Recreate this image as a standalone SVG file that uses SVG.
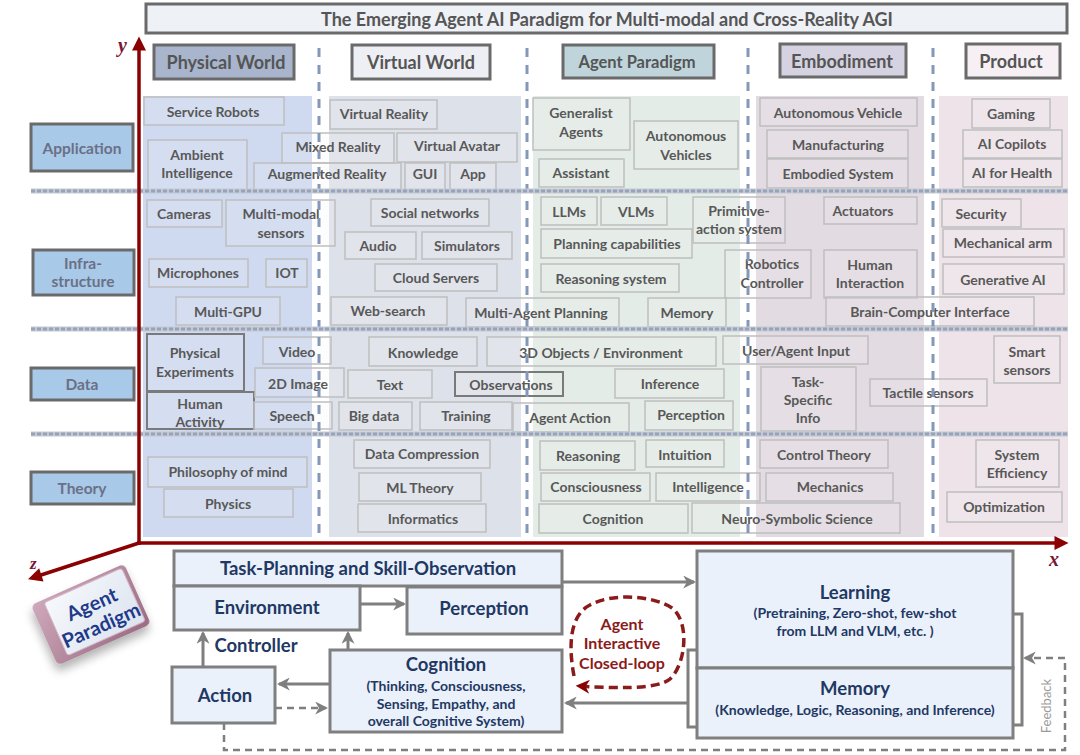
<svg xmlns="http://www.w3.org/2000/svg" width="1080" height="755" viewBox="0 0 1080 755">
<defs>
<style>
.it rect{fill:rgba(245,245,245,0.18);stroke:#BEBEBE;stroke-width:1.5}
.it.dk rect{stroke:#7A7A7A;stroke-width:2}
.it text{font-family:Lato,"Open Sans","Liberation Sans",sans-serif;font-weight:700;font-size:14px;fill:#585858;text-anchor:middle;dominant-baseline:central}
.hd rect{stroke:#6A6A6A;stroke-width:3}
.hd text{font-family:Lato,"Open Sans","Liberation Sans",sans-serif;font-weight:700;font-size:18px;fill:#555;text-anchor:middle;dominant-baseline:central}
.rl rect{fill:#A9C9E9;stroke:#6A6A6A;stroke-width:3}
.rl text{font-family:Lato,"Open Sans","Liberation Sans",sans-serif;font-weight:700;font-size:15.5px;fill:#6A7086;text-anchor:middle;dominant-baseline:central}
.vd{stroke:#8498B8;stroke-width:3;stroke-dasharray:9 8}
.hb{stroke:#C3CAD6;stroke-width:5}
.hs{stroke:#98A3B7;stroke-width:3;stroke-dasharray:4 2}
.bx rect{fill:#EAF1FA;stroke:#7F7F7F;stroke-width:3}
.bx text{font-family:Lato,"Open Sans","Liberation Sans",sans-serif;font-weight:700;fill:#1F3864;text-anchor:middle;dominant-baseline:central}
.bt{font-size:18.5px}
.bs{font-size:14px}
.cl{font-family:Lato,"Open Sans","Liberation Sans",sans-serif;font-weight:700;font-size:16px;fill:#8B1A1A;text-anchor:middle;dominant-baseline:central}
.cn{fill:none;stroke:#7F7F7F;stroke-width:3}
.cd{fill:none;stroke:#7F7F7F;stroke-width:2.5;stroke-dasharray:7 5}
.ax{stroke:#8B0000;stroke-width:3.5;fill:none}
.axl{font-family:"Liberation Serif",serif;font-style:italic;font-weight:700;font-size:20px;fill:#7A1535}
</style>
<marker id="ga" viewBox="0 0 12 12" markerWidth="13" markerHeight="13" refX="10" refY="6" orient="auto" markerUnits="userSpaceOnUse"><path d="M0,0 L12,6 L0,12 L3.5,6 z" fill="#7F7F7F"/></marker>
<marker id="ra" viewBox="0 0 12 12" markerWidth="14" markerHeight="14" refX="10" refY="6" orient="auto" markerUnits="userSpaceOnUse"><path d="M0,0 L12,6 L0,12 L3.5,6 z" fill="#8B0000"/></marker>
<marker id="xa" viewBox="0 0 12 12" markerWidth="16" markerHeight="14" refX="3" refY="6" orient="auto" markerUnits="userSpaceOnUse"><path d="M0,0 L12,6 L0,12 z" fill="#8B0000"/></marker>
<linearGradient id="mauve" x1="0" y1="0" x2="1" y2="1"><stop offset="0" stop-color="#CFA9BB"/><stop offset="1" stop-color="#9A6B83"/></linearGradient>
<linearGradient id="face" x1="0" y1="0" x2="1" y2="1"><stop offset="0" stop-color="#F6F8FC"/><stop offset="1" stop-color="#DCE4EF"/></linearGradient>
<filter id="sh" x="-40%" y="-40%" width="180%" height="180%"><feDropShadow dx="-3" dy="6" stdDeviation="5" flood-color="#000" flood-opacity="0.3"/></filter>
</defs>
<rect width="1080" height="755" fill="#FFFFFF"/>

<g id="title"><rect x="146" y="4" width="921" height="29" fill="#EEF1F6" stroke="#6A6A6A" stroke-width="3"/><text x="607" y="19" font-family="Lato,'Open Sans','Liberation Sans',sans-serif" font-weight="700" font-size="18" fill="#555" text-anchor="middle" dominant-baseline="central">The Emerging Agent AI Paradigm for Multi-modal and Cross-Reality AGI</text></g>

<g id="backgrounds">
<rect x="143" y="96" width="169" height="441" fill="#CFDAF0"/>
<rect x="329" y="96" width="192" height="441" fill="#DDE1EA"/>
<rect x="533" y="96" width="207" height="441" fill="#E3ECE7"/>
<rect x="756" y="96" width="168" height="441" fill="#E2DBE2"/>
<rect x="939" y="96" width="129" height="441" fill="#EEE3E9"/>
</g>

<g id="headers">
<g id="h-physical" class="hd"><rect x="154" y="45" width="140" height="34" fill="#A8B5CC"/><text x="226" y="62">Physical World</text></g>
<g id="h-virtual" class="hd"><rect x="352" y="45" width="138" height="34" fill="#EDEFF4"/><text x="421" y="62">Virtual World</text></g>
<g id="h-agent" class="hd"><rect x="563" y="45" width="151" height="33" fill="#BFD4DB"/><text x="637" y="62" style="font-size:16.5px">Agent Paradigm</text></g>
<g id="h-embodiment" class="hd"><rect x="780" y="44" width="126" height="33" fill="#D5D2E1" stroke="#6A5E6C"/><text x="842" y="61">Embodiment</text></g>
<g id="h-product" class="hd"><rect x="966" y="44" width="94" height="34" fill="#F6F0F5" stroke="#6A5E6C"/><text x="1011" y="61">Product</text></g>
</g>

<g id="row-labels">
<g id="r-application" class="rl"><rect x="31" y="124" width="102" height="47"/><text x="82" y="148">Application</text></g>
<g id="r-infrastructure" class="rl"><rect x="33" y="250" width="101" height="45"/><text x="83" y="263">Infra-</text><text x="83" y="281">structure</text></g>
<g id="r-data" class="rl"><rect x="31" y="368" width="103" height="32"/><text x="82" y="384">Data</text></g>
<g id="r-theory" class="rl"><rect x="31" y="472" width="103" height="32"/><text x="82" y="488">Theory</text></g>
</g>

<g id="items-application">
<g id="service-robots" class="it"><rect x="144" y="97" width="140" height="28"/><text x="213" y="111">Service Robots</text></g>
<g id="ambient-intelligence" class="it"><rect x="148" y="140" width="99" height="50"/><text x="197" y="154">Ambient</text><text x="197" y="172">Intelligence</text></g>
<g id="mixed-reality" class="it"><rect x="282" y="133" width="112" height="30"/><text x="338" y="146">Mixed Reality</text></g>
<g id="virtual-reality" class="it"><rect x="330" y="100" width="107" height="29"/><text x="384" y="113">Virtual Reality</text></g>
<g id="virtual-avatar" class="it"><rect x="397" y="133" width="120" height="29"/><text x="457" y="145">Virtual Avatar</text></g>
<g id="augmented-reality" class="it"><rect x="254" y="163" width="147" height="27"/><text x="327" y="173">Augmented Reality</text></g>
<g id="gui" class="it"><rect x="405" y="163" width="40" height="27"/><text x="425" y="173">GUI</text></g>
<g id="app" class="it"><rect x="450" y="163" width="46" height="27"/><text x="473" y="173">App</text></g>
<g id="generalist-agents" class="it"><rect x="533" y="98" width="97" height="52"/><text x="581" y="112">Generalist</text><text x="581" y="131">Agents</text></g>
<g id="autonomous-vehicles" class="it"><rect x="634" y="121" width="104" height="48"/><text x="686" y="135">Autonomous</text><text x="686" y="154">Vehicles</text></g>
<g id="assistant" class="it"><rect x="539" y="159" width="85" height="28"/><text x="581" y="172">Assistant</text></g>
<g id="autonomous-vehicle" class="it"><rect x="760" y="98" width="157" height="28"/><text x="838" y="112">Autonomous Vehicle</text></g>
<g id="manufacturing" class="it"><rect x="767" y="130" width="141" height="28"/><text x="838" y="144">Manufacturing</text></g>
<g id="embodied-system" class="it"><rect x="767" y="159" width="141" height="29"/><text x="838" y="173">Embodied System</text></g>
<g id="gaming" class="it"><rect x="972" y="99" width="78" height="29"/><text x="1011" y="113">Gaming</text></g>
<g id="ai-copilots" class="it"><rect x="963" y="130" width="99" height="28"/><text x="1012" y="143">AI Copilots</text></g>
<g id="ai-for-health" class="it"><rect x="963" y="159" width="99" height="28"/><text x="1012" y="172">AI for Health</text></g>
</g>

<g id="items-infrastructure">
<g id="cameras" class="it"><rect x="147" y="200" width="75" height="27"/><text x="184" y="213">Cameras</text></g>
<g id="multimodal-sensors" class="it"><rect x="226" y="200" width="109" height="46"/><text x="281" y="213">Multi-modal</text><text x="281" y="232">sensors</text></g>
<g id="microphones" class="it"><rect x="149" y="259" width="99" height="28"/><text x="198" y="272">Microphones</text></g>
<g id="iot" class="it"><rect x="266" y="259" width="41" height="28"/><text x="287" y="272">IOT</text></g>
<g id="multi-gpu" class="it"><rect x="176" y="297" width="104" height="28"/><text x="228" y="311">Multi-GPU</text></g>
<g id="social-networks" class="it"><rect x="371" y="199" width="118" height="27"/><text x="430" y="212">Social networks</text></g>
<g id="audio" class="it"><rect x="345" y="232" width="71" height="27"/><text x="378" y="245">Audio</text></g>
<g id="simulators" class="it"><rect x="422" y="232" width="90" height="27"/><text x="467" y="245">Simulators</text></g>
<g id="cloud-servers" class="it"><rect x="375" y="264" width="122" height="27"/><text x="436" y="277">Cloud Servers</text></g>
<g id="web-search" class="it"><rect x="331" y="297" width="116" height="28"/><text x="388" y="310">Web-search</text></g>
<g id="multi-agent-planning" class="it"><rect x="466" y="298" width="153" height="29"/><text x="541" y="312">Multi-Agent Planning</text></g>
<g id="llms" class="it"><rect x="541" y="197" width="56" height="28"/><text x="569" y="211">LLMs</text></g>
<g id="vlms" class="it"><rect x="601" y="197" width="66" height="28"/><text x="636" y="211">VLMs</text></g>
<g id="primitive-action" class="it"><rect x="693" y="197" width="92" height="46"/><text x="739" y="210">Primitive-</text><text x="739" y="228">action system</text></g>
<g id="planning-capabilities" class="it"><rect x="541" y="229" width="151" height="29"/><text x="617" y="243">Planning capabilities</text></g>
<g id="reasoning-system" class="it"><rect x="541" y="264" width="138" height="28"/><text x="611" y="278">Reasoning system</text></g>
<g id="robotics-controller" class="it"><rect x="725" y="250" width="86" height="48"/><text x="772" y="263">Robotics</text><text x="772" y="282">Controller</text></g>
<g id="memory-item" class="it"><rect x="648" y="298" width="78" height="29"/><text x="687" y="312">Memory</text></g>
<g id="actuators" class="it"><rect x="824" y="197" width="93" height="27"/><text x="863" y="210">Actuators</text></g>
<g id="human-interaction" class="it"><rect x="824" y="250" width="93" height="48"/><text x="870" y="264">Human</text><text x="870" y="282">Interaction</text></g>
<g id="bci" class="it"><rect x="826" y="297" width="208" height="29"/><text x="930" y="311">Brain-Computer Interface</text></g>
<g id="security" class="it"><rect x="942" y="199" width="79" height="28"/><text x="981" y="213">Security</text></g>
<g id="mechanical-arm" class="it"><rect x="943" y="229" width="121" height="28"/><text x="1003" y="242">Mechanical arm</text></g>
<g id="generative-ai" class="it"><rect x="943" y="264" width="121" height="30"/><text x="1003" y="279">Generative AI</text></g>
</g>

<g id="items-data">
<g id="physical-experiments" class="it dk"><rect x="147" y="334" width="97" height="57"/><text x="195" y="352">Physical</text><text x="195" y="371">Experiments</text></g>
<g id="human-activity" class="it dk"><rect x="147" y="392" width="107" height="37"/><text x="200" y="403">Human</text><text x="200" y="421">Activity</text></g>
<g id="video" class="it"><rect x="263" y="337" width="68" height="27"/><text x="297" y="351">Video</text></g>
<g id="image-2d" class="it"><rect x="255" y="368" width="89" height="29"/><text x="298" y="383">2D Image</text></g>
<g id="speech" class="it"><rect x="254" y="402" width="78" height="27"/><text x="292" y="415">Speech</text></g>
<g id="knowledge" class="it"><rect x="369" y="337" width="108" height="29"/><text x="423" y="352">Knowledge</text></g>
<g id="text-item" class="it"><rect x="348" y="370" width="84" height="28"/><text x="390" y="384">Text</text></g>
<g id="big-data" class="it"><rect x="339" y="402" width="73" height="28"/><text x="374" y="415">Big data</text></g>
<g id="training" class="it"><rect x="420" y="402" width="92" height="28"/><text x="466" y="415">Training</text></g>
<g id="objects-3d" class="it"><rect x="487" y="337" width="229" height="29"/><text x="601" y="352">3D Objects / Environment</text></g>
<g id="inference" class="it"><rect x="615" y="369" width="109" height="29"/><text x="670" y="383">Inference</text></g>
<g id="agent-action" class="it"><rect x="513" y="403" width="116" height="29"/><text x="570" y="417">Agent Action</text></g>
<g id="perception-item" class="it"><rect x="645" y="401" width="88" height="29"/><text x="691" y="414">Perception</text></g>
<g id="observations" class="it dk"><rect x="455" y="372" width="108" height="24"/><text x="511" y="384">Observations</text></g>
<g id="user-agent-input" class="it"><rect x="723" y="336" width="145" height="28"/><text x="796" y="350">User/Agent  Input</text></g>
<g id="task-specific-info" class="it"><rect x="761" y="367" width="95" height="64"/><text x="808" y="381">Task-</text><text x="808" y="399">Specific</text><text x="808" y="417">Info</text></g>
<g id="tactile-sensors" class="it"><rect x="870" y="379" width="117" height="27"/><text x="928" y="392">Tactile sensors</text></g>
<g id="smart-sensors" class="it"><rect x="994" y="336" width="66" height="47"/><text x="1027" y="351">Smart</text><text x="1027" y="369">sensors</text></g>
</g>

<g id="items-theory">
<g id="philosophy-of-mind" class="it"><rect x="148" y="457" width="159" height="30"/><text x="228" y="471">Philosophy of mind</text></g>
<g id="physics" class="it"><rect x="164" y="489" width="129" height="28"/><text x="228" y="503">Physics</text></g>
<g id="data-compression" class="it"><rect x="354" y="440" width="136" height="28"/><text x="422" y="453">Data Compression</text></g>
<g id="ml-theory" class="it"><rect x="359" y="473" width="122" height="28"/><text x="420" y="487">ML Theory</text></g>
<g id="informatics" class="it"><rect x="358" y="504" width="128" height="28"/><text x="423" y="518">Informatics</text></g>
<g id="reasoning" class="it"><rect x="540" y="441" width="95" height="29"/><text x="588" y="455">Reasoning</text></g>
<g id="intuition" class="it"><rect x="646" y="440" width="78" height="27"/><text x="685" y="454">Intuition</text></g>
<g id="consciousness" class="it"><rect x="541" y="473" width="109" height="28"/><text x="596" y="486">Consciousness</text></g>
<g id="intelligence" class="it"><rect x="656" y="473" width="104" height="28"/><text x="708" y="486">Intelligence</text></g>
<g id="cognition-item" class="it"><rect x="539" y="504" width="149" height="29"/><text x="613" y="518">Cognition</text></g>
<g id="neuro-symbolic" class="it"><rect x="692" y="503" width="208" height="30"/><text x="797" y="518">Neuro-Symbolic Science</text></g>
<g id="control-theory" class="it"><rect x="760" y="440" width="128" height="28"/><text x="824" y="454">Control Theory</text></g>
<g id="mechanics" class="it"><rect x="766" y="473" width="127" height="28"/><text x="830" y="486">Mechanics</text></g>
<g id="system-efficiency" class="it"><rect x="976" y="440" width="83" height="47"/><text x="1017" y="454">System</text><text x="1017" y="472">Efficiency</text></g>
<g id="optimization" class="it"><rect x="947" y="492" width="115" height="30"/><text x="1004" y="506">Optimization</text></g>
</g>

<g id="dividers">
<line class="vd" x1="319" y1="48" x2="319" y2="540"/>
<line class="vd" x1="527" y1="48" x2="527" y2="540"/>
<line class="vd" x1="748" y1="48" x2="748" y2="540"/>
<line class="vd" x1="933" y1="48" x2="933" y2="540"/>
<line class="hb" x1="31" y1="191" x2="1068" y2="191"/>
<line class="hs" x1="31" y1="191" x2="1068" y2="191"/>
<line class="hb" x1="31" y1="329" x2="1068" y2="329"/>
<line class="hs" x1="31" y1="329" x2="1068" y2="329"/>
<line class="hb" x1="31" y1="434" x2="1068" y2="434"/>
<line class="hs" x1="31" y1="434" x2="1068" y2="434"/>
</g>

<g id="axes">
<line class="ax" x1="139" y1="545" x2="139" y2="47" marker-end="url(#xa)"/>
<line class="ax" x1="137" y1="543" x2="1058" y2="543" marker-end="url(#xa)"/>
<line class="ax" x1="139" y1="543" x2="38" y2="576" marker-end="url(#xa)"/>
<text class="axl" x="118" y="52">y</text>
<text class="axl" x="1049" y="566">x</text>
<text class="axl" x="30" y="569" style="font-size:17px">z</text>
</g>

<g id="agent-paradigm-block" transform="translate(90,615) rotate(-24)">
<g filter="url(#sh)">
<rect x="-50" y="-33" width="102" height="66" rx="5" fill="url(#mauve)"/>
</g>
<rect x="-37" y="-30" width="85" height="58" rx="3" fill="url(#face)" stroke="#D4B6C5" stroke-width="1"/>
<text x="6" y="-10" font-family="Lato,'Open Sans','Liberation Sans',sans-serif" font-weight="700" font-size="20" fill="#1F3A8A" text-anchor="middle" dominant-baseline="central">Agent</text>
<text x="6" y="13" font-family="Lato,'Open Sans','Liberation Sans',sans-serif" font-weight="700" font-size="20" fill="#1F3A8A" text-anchor="middle" dominant-baseline="central">Paradigm</text>
</g>

<g id="task-planning" class="bx"><rect x="174" y="551" width="388" height="35"/><text class="bt" x="368" y="568">Task-Planning and Skill-Observation</text></g>
<g id="environment" class="bx"><rect x="174" y="586" width="186" height="44"/><text class="bt" x="267" y="607">Environment</text></g>
<g id="perception" class="bx"><rect x="407" y="587" width="155" height="47"/><text class="bt" x="484" y="608">Perception</text></g>
<g id="action" class="bx"><rect x="172" y="667" width="103" height="56"/><text class="bt" x="225" y="695">Action</text></g>
<g id="cognition" class="bx"><rect x="330" y="650" width="232" height="82"/><text class="bt" x="446" y="664">Cognition</text><text class="bs" x="446" y="685">(Thinking, Consciousness,</text><text class="bs" x="446" y="703">Sensing, Empathy, and</text><text class="bs" x="446" y="720">overall Cognitive System)</text></g>
<g id="learning" class="bx"><rect x="697" y="551" width="316" height="117"/><text class="bt" x="855" y="592">Learning</text><text class="bs" x="855" y="612">(Pretraining, Zero-shot, few-shot</text><text class="bs" x="855" y="630">from LLM and VLM, etc. )</text></g>
<g id="memory" class="bx"><rect x="697" y="668" width="316" height="70"/><text class="bt" x="855" y="688">Memory</text><text class="bs" x="855" y="709">(Knowledge, Logic, Reasoning, and Inference)</text></g>
<g id="closed-loop-label"><text class="cl" x="622" y="623">Agent</text><text class="cl" x="622" y="642">Interactive</text><text class="cl" x="622" y="662">Closed-loop</text></g>
<text id="controller-label" x="256" y="645" font-family="Lato,'Open Sans','Liberation Sans',sans-serif" font-weight="700" font-size="18.5" fill="#1F3864" text-anchor="middle" dominant-baseline="central">Controller</text>
<text id="feedback-label" x="0" y="0" transform="translate(1046,706) rotate(-90)" font-family="Lato,'Open Sans','Liberation Sans',sans-serif" font-size="13" fill="#9A9A9A" text-anchor="middle" dominant-baseline="central">Feedback</text>

<g id="connectors">
<path class="cn" d="M562,582 H694" marker-end="url(#ga)"/>
<path class="cn" d="M361,604 H404" marker-end="url(#ga)"/>
<path class="cn" d="M203,667 V633" marker-end="url(#ga)"/>
<path class="cn" d="M348,650 V633" marker-end="url(#ga)"/>
<path class="cn" d="M330,684 H279" marker-end="url(#ga)"/>
<path class="cd" d="M275,708 H326" marker-end="url(#ga)"/>
<path class="cd" d="M224,723 V750 H1065 V658 H1025" marker-end="url(#ga)"/>
<path class="cn" d="M1013,614 H1022 V725 H1013" stroke-width="2.5"/>
<path class="cn" d="M697,650 H688 V727 H697" stroke-width="2.5"/>
<path class="cn" d="M688,703 H566" marker-end="url(#ga)"/>
<path d="M574,676 C569,650 568,616 590,605 C612,593 652,595 672,608 C690,622 686,664 670,679 C657,690 612,688 578,686" fill="none" stroke="#8B1A1A" stroke-width="3.5" stroke-dasharray="9 5" marker-end="url(#ra)"/>
</g>
</svg>
